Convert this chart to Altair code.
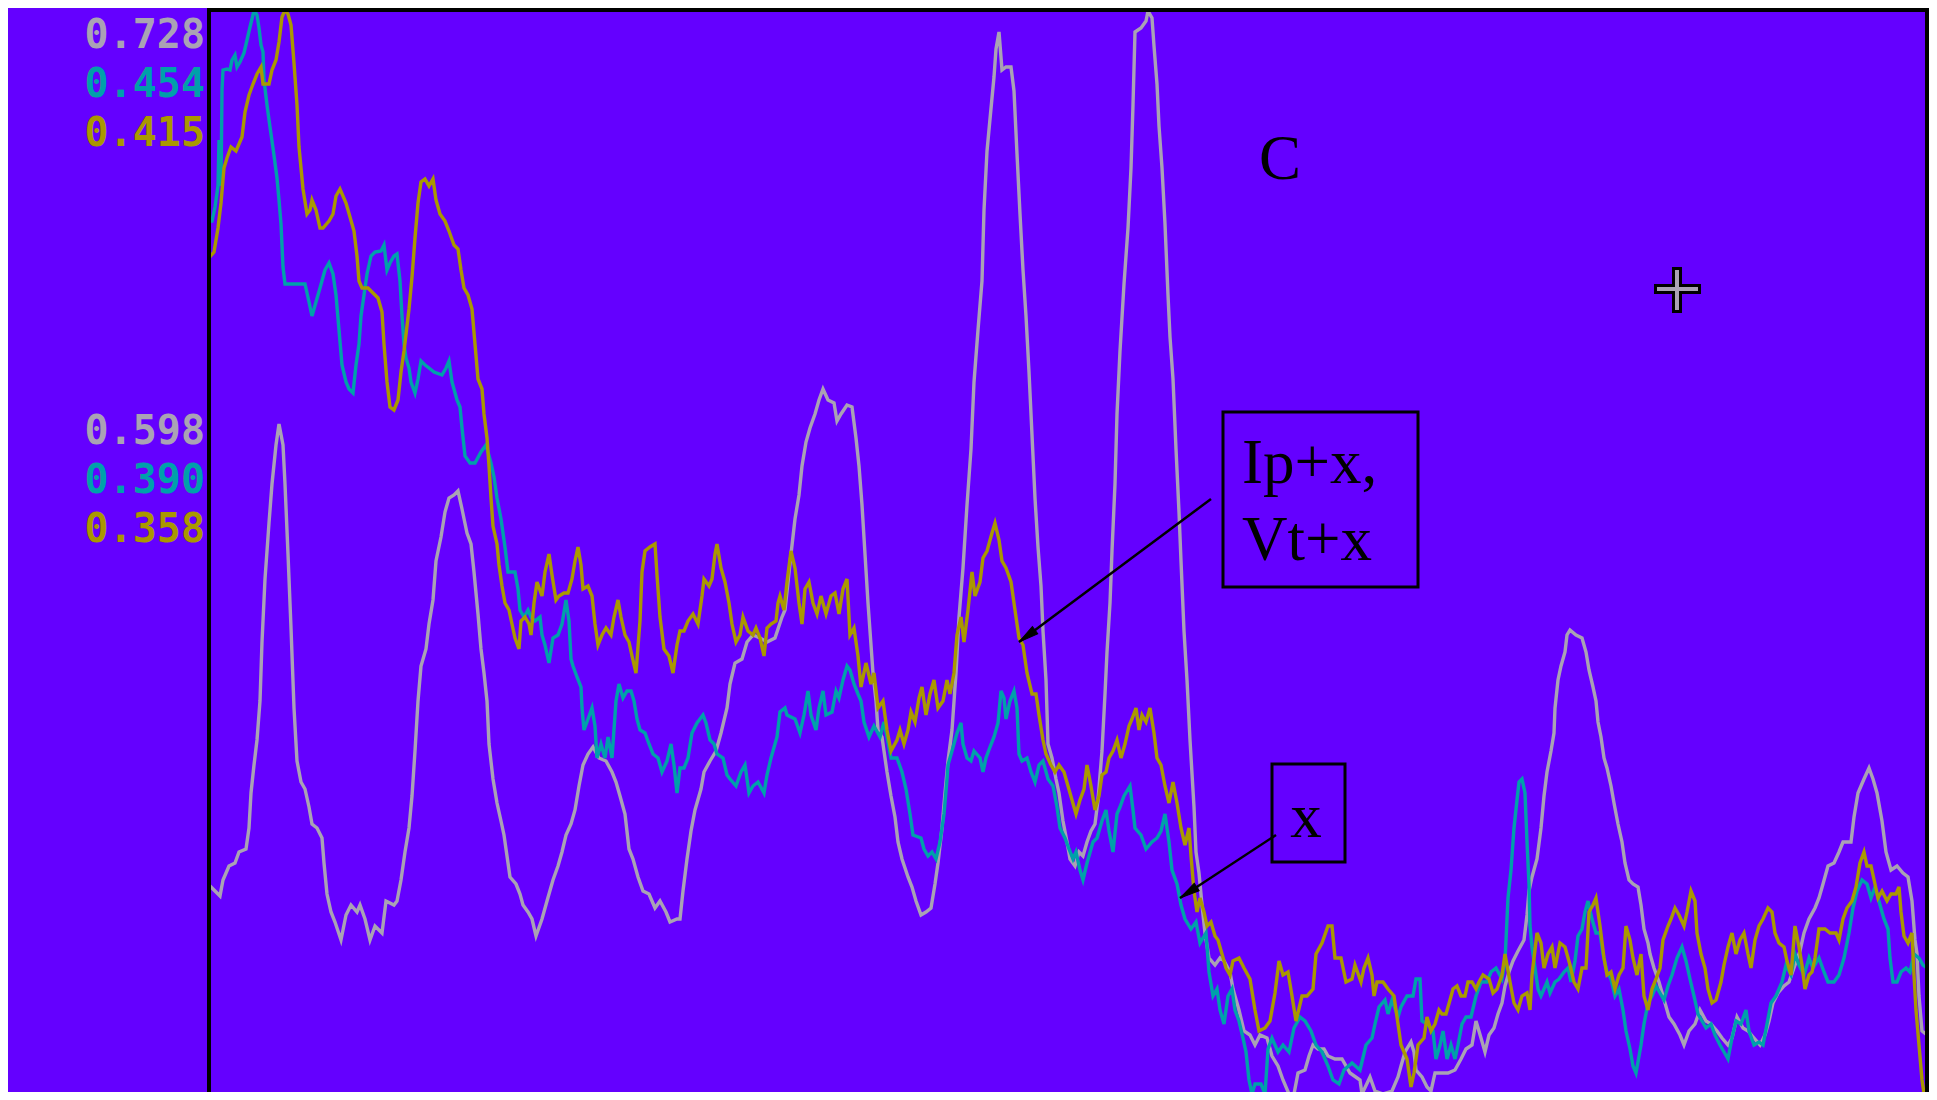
import altair as alt
import pandas as pd

# ---- series (t = sample position, v = amplitude) ----
gray_t = [0, 11, 14, 20, 26, 30, 37, 40, 42, 45, 48, 51, 53, 56, 60, 63, 67, 70, 74, 76, 79, 82, 85, 88, 92, 96, 100, 103, 108, 113, 115, 118, 122, 126, 132, 137, 142, 148, 151, 156, 161, 166, 173, 177, 185, 188, 192, 196, 200, 203, 206, 209, 212, 217, 220, 224, 227, 232, 236, 240, 245, 249, 253, 258, 262, 265, 269, 272, 275, 278, 280, 284, 288, 292, 295, 298, 301, 307, 311, 314, 319, 323, 327, 333, 338, 344, 349, 353, 357, 362, 366, 370, 374, 379, 384, 390, 397, 403, 407, 411, 416, 420, 424, 429, 434, 440, 446, 451, 457, 461, 468, 471, 474, 478, 482, 486, 492, 495, 501, 507, 512, 518, 521, 526, 533, 538, 544, 551, 558, 566, 573, 576, 582, 586, 590, 593, 597, 601, 606, 610, 614, 619, 625, 628, 632, 638, 643, 647, 650, 653, 656, 659, 662, 664, 667, 669, 673, 675, 678, 682, 686, 689, 693, 699, 703, 707, 712, 717, 722, 726, 729, 733, 736, 739, 743, 747, 750, 754, 758, 762, 765, 769, 773, 775, 778, 781, 785, 787, 790, 793, 797, 802, 805, 808, 811, 814, 817, 820, 823, 826, 829, 832, 834, 837, 839, 843, 847, 850, 854, 858, 861, 866, 870, 874, 878, 882, 886, 889, 893, 896, 898, 901, 903, 906, 908, 911, 915, 919, 922, 924, 926, 932, 937, 939, 943, 945, 948, 950, 953, 956, 959, 961, 964, 967, 970, 972, 975, 978, 981, 985, 987, 990, 993, 996, 1000, 1006, 1011, 1015, 1021, 1024, 1030, 1035, 1041, 1046, 1051, 1058, 1063, 1069, 1074, 1080, 1085, 1089, 1096, 1100, 1104, 1109, 1115, 1119, 1126, 1133, 1141, 1151, 1153, 1161, 1166, 1174, 1183, 1189, 1192, 1196, 1202, 1205, 1207, 1213, 1218, 1222, 1226, 1239, 1246, 1252, 1257, 1263, 1267, 1272, 1276, 1280, 1285, 1289, 1293, 1296, 1300, 1304, 1309, 1315, 1318, 1320, 1323, 1328, 1332, 1335, 1338, 1342, 1345, 1346, 1349, 1352, 1356, 1358, 1361, 1367, 1373, 1377, 1380, 1384, 1387, 1389, 1392, 1395, 1398, 1402, 1405, 1409, 1413, 1416, 1420, 1424, 1429, 1432, 1435, 1439, 1441, 1445, 1450, 1456, 1460, 1465, 1471, 1475, 1480, 1486, 1491, 1497, 1502, 1508, 1513, 1519, 1523, 1528, 1534, 1539, 1545, 1551, 1556, 1560, 1564, 1569, 1575, 1580, 1586, 1591, 1595, 1600, 1606, 1610, 1614, 1619, 1625, 1630, 1634, 1642, 1645, 1649, 1655, 1660, 1664, 1668, 1673, 1677, 1682, 1688, 1694, 1699, 1703, 1706, 1708, 1710, 1713, 1718]
gray_v = [215, 204, 220, 234, 237, 248, 251, 272, 307, 335, 360, 399, 458, 521, 577, 616, 655, 676, 655, 616, 546, 472, 392, 339, 318, 311, 293, 276, 272, 262, 237, 206, 188, 178, 160, 185, 195, 188, 195, 181, 160, 174, 167, 199, 195, 199, 220, 248, 272, 304, 349, 399, 434, 451, 476, 500, 539, 563, 588, 602, 605, 609, 591, 567, 556, 528, 486, 451, 427, 399, 356, 321, 297, 279, 265, 244, 223, 216, 206, 195, 188, 181, 164, 181, 199, 220, 234, 248, 265, 276, 290, 314, 335, 346, 353, 342, 339, 328, 318, 304, 286, 251, 241, 223, 209, 206, 192, 199, 188, 178, 181, 181, 209, 241, 269, 290, 311, 328, 339, 349, 367, 392, 416, 437, 441, 458, 465, 462, 458, 462, 483, 490, 546, 581, 605, 634, 658, 672, 686, 700, 711, 700, 697, 679, 686, 695, 693, 662, 634, 595, 546, 497, 455, 427, 399, 370, 363, 349, 328, 304, 283, 258, 241, 223, 213, 199, 185, 188, 192, 216, 237, 272, 307, 339, 370, 427, 483, 532, 595, 651, 718, 770, 819, 890, 949, 981, 1023, 1051, 1068, 1030, 1033, 1033, 1009, 946, 886, 830, 784, 728, 665, 602, 553, 514, 469, 420, 356, 342, 321, 307, 279, 258, 241, 234, 248, 244, 258, 269, 276, 300, 349, 406, 448, 497, 549, 616, 686, 749, 816, 872, 932, 995, 1068, 1072, 1079, 1089, 1082, 1054, 1016, 974, 932, 876, 805, 763, 721, 651, 588, 539, 469, 420, 360, 293, 248, 227, 195, 167, 142, 135, 142, 139, 128, 111, 90, 69, 65, 55, 65, 62, 44, 34, 20, 6, 6, 27, 30, 44, 55, 51, 51, 44, 41, 41, 27, 20, 6, 23, 9, 6, 9, 23, 34, 48, 58, 48, 30, 23, 13, 9, 27, 27, 30, 41, 51, 55, 79, 62, 48, 65, 72, 86, 97, 114, 128, 139, 149, 160, 185, 209, 223, 241, 272, 304, 328, 349, 367, 392, 420, 434, 448, 465, 470, 465, 462, 448, 430, 413, 399, 378, 363, 342, 332, 314, 297, 276, 258, 237, 220, 216, 213, 195, 171, 157, 146, 132, 118, 97, 83, 76, 65, 55, 69, 76, 90, 79, 76, 69, 62, 55, 62, 83, 72, 69, 62, 55, 65, 79, 97, 107, 114, 118, 135, 149, 167, 181, 192, 202, 216, 234, 237, 248, 258, 258, 283, 307, 321, 332, 321, 307, 279, 248, 230, 234, 227, 223, 199, 160, 146, 104, 69, 65]

teal_t = [0, 3, 6, 9, 10, 12, 13, 14, 18, 21, 23, 26, 28, 31, 35, 38, 41, 44, 45, 48, 50, 52, 54, 55, 58, 61, 64, 68, 70, 72, 74, 76, 85, 96, 100, 103, 107, 111, 116, 120, 124, 127, 130, 133, 137, 140, 144, 147, 150, 152, 155, 158, 162, 166, 172, 175, 178, 181, 185, 188, 191, 193, 195, 197, 200, 202, 206, 209, 212, 216, 220, 225, 233, 237, 240, 243, 248, 251, 253, 256, 261, 266, 272, 277, 282, 285, 288, 292, 296, 299, 306, 309, 311, 315, 319, 322, 326, 331, 333, 336, 340, 344, 349, 353, 357, 360, 362, 364, 368, 372, 373, 375, 379, 383, 386, 388, 392, 396, 399, 403, 407, 410, 414, 418, 422, 425, 428, 431, 436, 440, 444, 449, 453, 458, 462, 465, 468, 471, 475, 479, 483, 488, 494, 497, 501, 505, 508, 514, 518, 521, 527, 532, 536, 540, 544, 549, 555, 558, 562, 568, 571, 576, 578, 586, 591, 595, 599, 602, 607, 610, 614, 617, 623, 627, 630, 634, 638, 641, 645, 649, 652, 655, 660, 665, 671, 675, 678, 682, 688, 693, 697, 701, 704, 712, 715, 719, 723, 727, 731, 735, 738, 739, 743, 748, 752, 754, 758, 762, 765, 771, 774, 777, 781, 785, 789, 792, 795, 797, 801, 805, 808, 810, 813, 818, 822, 826, 830, 834, 839, 844, 848, 851, 856, 860, 864, 867, 871, 874, 878, 884, 888, 893, 897, 900, 904, 908, 911, 915, 921, 924, 926, 932, 937, 943, 948, 952, 956, 960, 963, 968, 972, 976, 982, 987, 991, 997, 1000, 1004, 1008, 1011, 1015, 1019, 1023, 1026, 1030, 1034, 1037, 1040, 1043, 1046, 1052, 1056, 1059, 1063, 1069, 1074, 1080, 1085, 1091, 1096, 1102, 1107, 1113, 1119, 1124, 1130, 1135, 1143, 1151, 1157, 1163, 1166, 1170, 1176, 1179, 1183, 1189, 1192, 1198, 1204, 1207, 1211, 1213, 1218, 1224, 1227, 1231, 1234, 1238, 1242, 1246, 1249, 1253, 1257, 1262, 1267, 1272, 1278, 1282, 1287, 1293, 1296, 1299, 1302, 1305, 1308, 1310, 1313, 1316, 1318, 1320, 1321, 1323, 1326, 1329, 1332, 1335, 1338, 1341, 1346, 1350, 1355, 1359, 1362, 1366, 1369, 1373, 1376, 1379, 1383, 1387, 1391, 1394, 1398, 1402, 1406, 1410, 1414, 1417, 1421, 1424, 1427, 1432, 1435, 1439, 1443, 1447, 1451, 1455, 1459, 1463, 1468, 1473, 1477, 1481, 1485, 1489, 1493, 1497, 1502, 1506, 1511, 1515, 1519, 1523, 1527, 1532, 1537, 1540, 1545, 1550, 1554, 1558, 1562, 1567, 1573, 1577, 1582, 1586, 1590, 1595, 1600, 1604, 1610, 1615, 1619, 1625, 1630, 1635, 1640, 1644, 1648, 1653, 1658, 1662, 1666, 1671, 1675, 1679, 1681, 1684, 1688, 1692, 1697, 1701, 1705, 1710, 1714, 1718]
teal_v = [879, 879, 893, 914, 960, 914, 1010, 1030, 1031, 1030, 1040, 1045, 1033, 1038, 1047, 1060, 1073, 1085, 1090, 1085, 1072, 1055, 1048, 1020, 995, 973, 952, 922, 900, 876, 833, 816, 816, 816, 798, 784, 798, 812, 830, 837, 826, 805, 770, 735, 718, 711, 707, 735, 756, 784, 805, 826, 844, 848, 849, 855, 830, 837, 844, 846, 819, 784, 756, 742, 732, 718, 707, 721, 739, 735, 732, 728, 725, 732, 739, 718, 700, 693, 672, 644, 637, 637, 648, 655, 637, 623, 602, 581, 553, 528, 528, 511, 490, 483, 490, 483, 479, 483, 465, 455, 437, 462, 465, 476, 500, 479, 441, 434, 423, 413, 392, 370, 381, 392, 374, 342, 356, 342, 363, 342, 399, 416, 402, 409, 409, 399, 381, 370, 367, 356, 346, 342, 328, 339, 356, 335, 307, 332, 332, 342, 367, 377, 385, 377, 360, 356, 346, 342, 325, 321, 314, 328, 335, 307, 314, 318, 307, 325, 342, 363, 388, 392, 385, 381, 367, 385, 409, 385, 370, 392, 409, 385, 388, 409, 402, 420, 434, 430, 416, 406, 399, 378, 363, 374, 363, 378, 363, 342, 342, 328, 311, 286, 265, 262, 251, 244, 248, 241, 258, 286, 321, 335, 349, 367, 377, 356, 342, 339, 349, 342, 328, 342, 353, 363, 377, 409, 402, 381, 399, 409, 392, 346, 339, 342, 328, 318, 335, 339, 321, 314, 293, 272, 262, 251, 241, 248, 230, 220, 237, 258, 262, 279, 290, 269, 248, 286, 293, 304, 314, 290, 272, 265, 251, 258, 262, 269, 286, 258, 230, 216, 195, 181, 171, 178, 157, 167, 128, 104, 111, 90, 76, 104, 111, 90, 79, 62, 48, 20, 6, 16, 16, 6, 51, 62, 48, 55, 48, 72, 83, 79, 69, 55, 48, 34, 20, 16, 30, 37, 30, 55, 62, 76, 93, 100, 86, 100, 83, 93, 104, 104, 121, 121, 79, 76, 69, 41, 55, 69, 41, 55, 41, 55, 76, 83, 83, 104, 118, 118, 128, 132, 121, 139, 202, 230, 272, 300, 318, 321, 307, 258, 216, 174, 153, 132, 111, 104, 111, 118, 107, 118, 121, 128, 132, 118, 139, 164, 171, 188, 199, 181, 167, 167, 146, 128, 121, 104, 111, 90, 69, 51, 34, 27, 55, 76, 97, 104, 114, 107, 100, 114, 125, 142, 153, 139, 121, 104, 86, 79, 72, 76, 65, 55, 48, 41, 62, 79, 76, 90, 69, 55, 58, 55, 76, 97, 104, 118, 135, 125, 146, 135, 125, 142, 132, 142, 128, 118, 118, 125, 142, 167, 192, 209, 220, 216, 202, 213, 195, 181, 171, 142, 118, 118, 128, 132, 128, 146, 142, 135, 132]

olive_t = [0, 5, 9, 12, 15, 18, 22, 27, 33, 36, 40, 44, 48, 52, 54, 60, 63, 67, 70, 73, 76, 79, 82, 85, 88, 90, 94, 98, 101, 103, 107, 111, 114, 120, 124, 127, 131, 137, 141, 145, 148, 150, 153, 159, 164, 169, 173, 175, 178, 181, 185, 189, 192, 195, 198, 200, 203, 206, 209, 212, 216, 220, 224, 227, 231, 236, 240, 245, 249, 252, 255, 259, 263, 266, 269, 273, 275, 278, 280, 282, 284, 288, 290, 293, 296, 300, 303, 306, 310, 312, 316, 320, 322, 325, 328, 333, 336, 340, 343, 347, 350, 355, 359, 363, 366, 369, 372, 374, 379, 383, 386, 389, 393, 397, 402, 405, 409, 412, 416, 420, 423, 427, 431, 433, 436, 441, 446, 448, 451, 455, 460, 464, 468, 471, 475, 479, 484, 489, 493, 495, 500, 503, 506, 508, 512, 516, 520, 523, 527, 531, 534, 539, 544, 547, 551, 555, 558, 562, 567, 569, 571, 575, 578, 582, 586, 590, 593, 596, 600, 604, 608, 612, 617, 622, 626, 630, 634, 638, 641, 645, 649, 652, 657, 662, 665, 669, 674, 678, 682, 688, 691, 695, 699, 702, 706, 710, 713, 717, 721, 725, 729, 734, 738, 741, 745, 748, 752, 755, 759, 763, 766, 771, 774, 778, 783, 786, 790, 793, 797, 802, 806, 810, 814, 818, 823, 827, 830, 834, 837, 842, 846, 850, 855, 859, 863, 867, 871, 875, 878, 882, 886, 890, 893, 897, 900, 904, 908, 912, 916, 920, 923, 927, 930, 933, 937, 941, 945, 948, 952, 956, 960, 964, 968, 972, 976, 980, 982, 985, 988, 991, 995, 998, 1002, 1006, 1009, 1013, 1017, 1021, 1024, 1030, 1035, 1041, 1046, 1050, 1056, 1061, 1066, 1070, 1074, 1079, 1083, 1087, 1093, 1098, 1104, 1107, 1113, 1119, 1123, 1126, 1132, 1137, 1143, 1146, 1152, 1155, 1159, 1163, 1165, 1168, 1174, 1179, 1185, 1189, 1192, 1198, 1202, 1205, 1209, 1215, 1218, 1222, 1226, 1230, 1233, 1237, 1241, 1244, 1248, 1252, 1256, 1259, 1263, 1267, 1270, 1274, 1280, 1284, 1288, 1293, 1296, 1301, 1305, 1309, 1313, 1318, 1321, 1323, 1328, 1332, 1335, 1339, 1343, 1346, 1351, 1356, 1361, 1365, 1369, 1373, 1377, 1380, 1384, 1387, 1391, 1395, 1398, 1402, 1406, 1410, 1414, 1417, 1421, 1424, 1428, 1432, 1435, 1439, 1443, 1447, 1451, 1454, 1459, 1462, 1466, 1470, 1475, 1478, 1482, 1486, 1488, 1492, 1496, 1499, 1503, 1507, 1512, 1515, 1519, 1523, 1527, 1531, 1535, 1539, 1542, 1546, 1550, 1554, 1559, 1563, 1566, 1570, 1575, 1578, 1582, 1586, 1590, 1593, 1596, 1600, 1603, 1606, 1610, 1616, 1621, 1627, 1630, 1634, 1638, 1643, 1647, 1651, 1655, 1658, 1662, 1666, 1669, 1673, 1678, 1682, 1687, 1690, 1692, 1695, 1699, 1703, 1705, 1707, 1710, 1713, 1716]
olive_v = [842, 848, 872, 897, 932, 942, 953, 949, 963, 988, 1005, 1016, 1026, 1033, 1016, 1016, 1030, 1040, 1058, 1083, 1090, 1086, 1075, 1037, 995, 953, 911, 886, 890, 900, 890, 872, 872, 879, 886, 904, 911, 897, 883, 869, 844, 819, 812, 812, 807, 802, 788, 756, 718, 693, 690, 700, 728, 749, 774, 791, 823, 862, 897, 918, 921, 914, 921, 900, 886, 879, 869, 855, 851, 830, 812, 805, 791, 756, 721, 711, 686, 662, 634, 602, 574, 556, 535, 514, 497, 490, 476, 462, 451, 479, 483, 476, 465, 497, 518, 504, 528, 546, 525, 500, 504, 507, 507, 521, 539, 553, 535, 511, 514, 504, 476, 455, 465, 472, 465, 483, 500, 483, 465, 458, 444, 427, 479, 528, 549, 553, 556, 525, 483, 451, 444, 427, 455, 469, 469, 479, 486, 476, 504, 521, 514, 521, 546, 556, 532, 518, 497, 476, 458, 465, 483, 469, 465, 472, 462, 444, 472, 476, 479, 497, 504, 490, 518, 549, 532, 497, 476, 511, 518, 497, 486, 504, 486, 504, 507, 486, 511, 521, 465, 472, 444, 413, 437, 416, 427, 392, 399, 370, 349, 360, 370, 356, 370, 388, 378, 402, 413, 385, 406, 420, 392, 399, 420, 406, 427, 465, 483, 458, 490, 528, 504, 518, 542, 549, 567, 577, 560, 539, 532, 518, 490, 462, 455, 427, 406, 406, 385, 360, 346, 335, 328, 335, 328, 314, 300, 286, 300, 311, 335, 314, 290, 304, 325, 328, 342, 349, 360, 342, 356, 374, 381, 392, 370, 385, 378, 392, 367, 342, 335, 314, 297, 318, 297, 272, 255, 272, 244, 209, 188, 202, 188, 174, 178, 164, 160, 146, 132, 125, 139, 142, 132, 121, 90, 69, 72, 79, 107, 139, 125, 128, 104, 79, 104, 104, 111, 146, 157, 174, 174, 142, 142, 118, 121, 135, 118, 132, 142, 125, 104, 118, 118, 111, 104, 76, 55, 41, 13, 27, 55, 62, 83, 69, 76, 90, 86, 86, 100, 111, 114, 104, 104, 118, 118, 111, 118, 125, 121, 107, 111, 125, 146, 118, 97, 90, 104, 107, 90, 125, 167, 157, 132, 146, 153, 132, 157, 153, 135, 118, 111, 132, 132, 188, 195, 202, 174, 142, 125, 128, 111, 125, 132, 174, 160, 142, 125, 146, 104, 90, 111, 121, 132, 160, 174, 181, 192, 185, 174, 188, 209, 199, 167, 146, 132, 111, 97, 100, 118, 135, 153, 167, 146, 160, 167, 146, 132, 160, 174, 181, 192, 188, 167, 157, 153, 139, 125, 174, 153, 135, 111, 125, 128, 142, 171, 171, 167, 167, 160, 181, 192, 199, 213, 237, 248, 234, 234, 216, 202, 209, 199, 206, 206, 213, 188, 164, 157, 167, 125, 90, 55, 20, 0]

# ---- scale labels (value printed, level on the amplitude axis, colour row) ----
label_levels = [1090, 694]
gray_labels = ["0.728", "0.598"]
teal_labels = ["0.454", "0.390"]
olive_labels = ["0.415", "0.358"]

# ---- annotations (in data coordinates) ----
box1 = dict(t=1014, t2=1209, v=688, v2=513)
box1_lines = ["Ip+x,", "Vt+x"]
box1_text_t = 1033
box1_text_v = [617, 540]
box2 = dict(t=1063, t2=1136, v=336, v2=238)
box2_text = "x"
box2_text_pos = (1097, 263)
c_text = "C"
c_pos = (1071, 921)
arrows = [dict(t=1002, v=601, t2=810, v2=458, angle=233.5),
          dict(t=1067, v=265, t2=971, v2=202, angle=236.8)]
cross_center = (1468, 811)

BG = "#6400ff"
GRAY = "#aaa2b4"
TEAL = "#00a0aa"
OLIVE = "#aa9800"

W, H = 1718, 1082
xs = alt.Scale(domain=[0, 1718], nice=False, zero=False)
ys = alt.Scale(domain=[8, 1090], nice=False, zero=False)


def X(f="t"):
    return alt.X(f"{f}:Q", scale=xs, axis=None)


def Y(f="v"):
    return alt.Y(f"{f}:Q", scale=ys, axis=None)


def line(ts, vs, color):
    df = pd.DataFrame({"t": ts, "v": vs})
    return alt.Chart(df).mark_line(color=color, strokeWidth=3.4, clip=True).encode(x=X(), y=Y())


layers = [line(gray_t, gray_v, GRAY), line(teal_t, teal_v, TEAL), line(olive_t, olive_v, OLIVE)]

# scale labels on the left
for labels, color, dy in [(gray_labels, GRAY, 38), (teal_labels, TEAL, 87), (olive_labels, OLIVE, 136)]:
    df = pd.DataFrame({"v": label_levels, "s": labels})
    layers.append(
        alt.Chart(df).mark_text(font="DejaVu Sans Mono", fontWeight="bold", fontSize=40, color=color,
                                align="right", baseline="alphabetic", dy=dy)
        .encode(x=alt.value(-4), y=Y(), text="s:N")
    )

# frame (top, left, right)
frame = pd.DataFrame({"t": [0, 0, 1718], "v": [8, 1090, 8], "t2": [0, 1718, 1718], "v2": [1092, 1090, 1092]})
layers.append(alt.Chart(frame).mark_rule(color="black", strokeWidth=4)
              .encode(x=X(), y=Y(), x2="t2:Q", y2="v2:Q"))

# boxes
boxes = pd.DataFrame([box1, box2])
layers.append(alt.Chart(boxes).mark_rect(filled=False, stroke="black", strokeWidth=3)
              .encode(x=X(), x2="t2:Q", y=Y(), y2="v2:Q"))

serif = "Liberation Serif"
txt1 = pd.DataFrame({"t": [box1_text_t, box1_text_t], "v": box1_text_v, "s": box1_lines})
layers.append(alt.Chart(txt1).mark_text(font=serif, fontSize=63, color="black", align="left", baseline="alphabetic")
              .encode(x=X(), y=Y(), text="s:N"))
txt2 = pd.DataFrame({"t": [box2_text_pos[0], c_pos[0]], "v": [box2_text_pos[1], c_pos[1]], "s": [box2_text, c_text]})
layers.append(alt.Chart(txt2).mark_text(font=serif, fontSize=63, color="black", align="center", baseline="alphabetic")
              .encode(x=X(), y=Y(), text="s:N"))

# arrows
arr = pd.DataFrame(arrows)
layers.append(alt.Chart(arr).mark_rule(color="black", strokeWidth=2.5)
              .encode(x=X(), y=Y(), x2="t2:Q", y2="v2:Q"))
layers.append(alt.Chart(arr).mark_point(shape="M0,0L0.45,2L-0.45,2Z", filled=True, fill="black",
                                        stroke="black", strokeWidth=1, opacity=1, size=400)
              .encode(x=X("t2"), y=Y("v2"), angle=alt.Angle("angle:Q", scale=None)))

# cross marker
cx, cy = cross_center
cross_black = pd.DataFrame({"t": [cx - 23, cx], "t2": [cx + 24, cx], "v": [cy, cy + 22], "v2": [cy, cy - 24]})
cross_gray = pd.DataFrame({"t": [cx - 20, cx], "t2": [cx + 21, cx], "v": [cy, cy + 19], "v2": [cy, cy - 21]})
layers.append(alt.Chart(cross_black).mark_rule(color="black", strokeWidth=10)
              .encode(x=X(), x2="t2:Q", y=Y(), y2="v2:Q"))
layers.append(alt.Chart(cross_gray).mark_rule(color=GRAY, strokeWidth=4)
              .encode(x=X(), x2="t2:Q", y=Y(), y2="v2:Q"))

chart = alt.layer(*layers).properties(
    width=W, height=H,
    padding={"left": 201, "top": 2, "right": 2, "bottom": 0},
    autosize=alt.AutoSizeParams(type="none"),
    background=BG,
).configure_view(strokeWidth=0)

chart.save("out.html", embed_options={"renderer": "svg", "actions": False})
